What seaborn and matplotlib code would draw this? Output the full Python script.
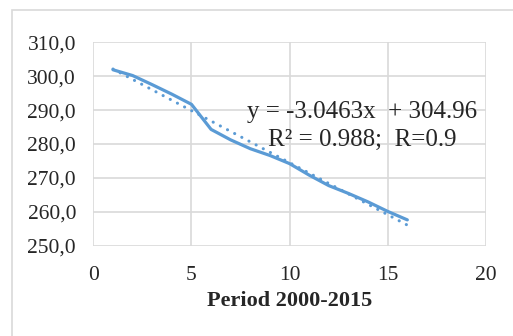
import matplotlib
matplotlib.use('Agg')
import matplotlib.pyplot as plt
import seaborn as sns
import pandas as pd
from matplotlib.patches import Rectangle

# values
periods = [1, 2, 3, 4, 5, 6, 7, 8, 9, 10, 11, 12, 13, 14, 15, 16]
values = [301.9, 300.2, 297.5, 294.7, 291.7, 284.3, 281.2, 278.6,
          276.6, 274.2, 270.8, 267.7, 265.4, 262.9, 260.1, 257.6]
x_ticks = [0, 5, 10, 15, 20]
y_ticks = [250, 260, 270, 280, 290, 300, 310]
eq_line1 = 'y = -3.0463x  + 304.96'
eq_line2 = 'R² = 0.988;  R=0.9'
x_label = 'Period 2000-2015'

df = pd.DataFrame({'period': periods, 'value': values})

sns.set_style('white')
plt.rcParams['font.family'] = ['Liberation Serif', 'DejaVu Serif']

blue = '#5B9BD5'
grid = '#D9D9D9'

fig = plt.figure(figsize=(5.13, 3.36), dpi=100)
ax = fig.add_axes([0.182, 0.269, 0.765, 0.605])

# chart area border
fig.patches.append(Rectangle((11.5 / 513, -0.1), 1.2, 1.1 - 10 / 336,
                             transform=fig.transFigure, fill=False,
                             edgecolor=grid, lw=1.2, zorder=0))

sns.lineplot(data=df, x='period', y='value', ax=ax, color=blue, lw=2.3,
             solid_joinstyle='round', solid_capstyle='round', zorder=3)
sns.regplot(data=df, x='period', y='value', ax=ax, scatter=False, ci=None,
            color=blue, line_kws=dict(lw=2.2, ls=(0, (0.05, 2.6)),
                                      dash_capstyle='round', zorder=2))

ax.set_xlim(0, 20)
ax.set_ylim(250, 310)
ax.set_xticks(x_ticks)
ax.set_yticks(y_ticks)
ax.set_xticklabels([str(t) for t in x_ticks], fontsize=15.5)
ax.set_yticklabels([f'{t:.1f}'.replace('.', ',') for t in y_ticks], fontsize=15.5)
ax.tick_params(axis='x', length=0, pad=15)
ax.tick_params(axis='y', length=0, pad=12.5)
ax.grid(True, color=grid, lw=1.2)
for s in ax.spines.values():
    s.set_visible(False)

ax.set_xlabel(x_label, fontsize=16, fontweight='bold', labelpad=4)
ax.set_ylabel('')

ax.text(13.7, 289.5, eq_line1, fontsize=18, ha='center', va='center', zorder=4)
ax.text(13.7, 281.1, eq_line2, fontsize=18, ha='center', va='center', zorder=4)

fig.savefig('out.png', dpi=100)
